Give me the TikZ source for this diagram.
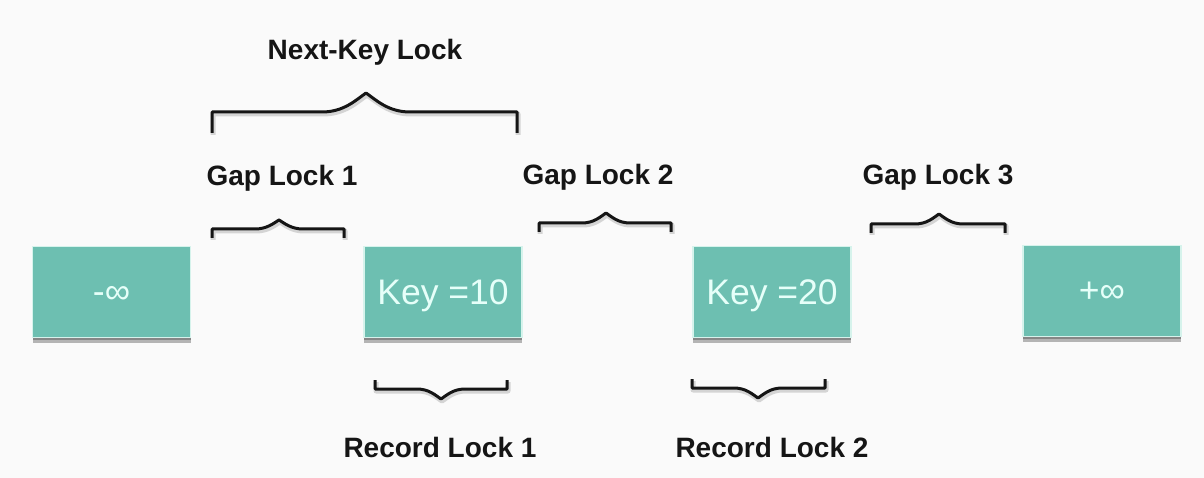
\documentclass[tikz,border=0pt]{standalone}
\usepackage{fontspec}
\setmainfont{Liberation Sans}
\usetikzlibrary{shadows}
\definecolor{bgc}{HTML}{FAFAFA}
\definecolor{teal1}{HTML}{6DBFB1}
\definecolor{tealedge}{HTML}{D6F3EC}
\definecolor{boxtext}{HTML}{E6FFF9}
\definecolor{ink}{HTML}{151515}
\tikzset{
  keybox/.style={rectangle, fill=teal1, draw=tealedge, line width=1.2pt,
    minimum width=158pt, minimum height=91pt, inner sep=0pt,
    double copy shadow={shadow xshift=0pt, shadow yshift=-2.5pt, opacity=0.35, fill=black!80, draw=none}},
  boxtxt/.style={text=boxtext, font=\fontsize{35.5}{40}\selectfont, inner sep=0pt, anchor=base},
  locklabel/.style={text=ink, font=\fontsize{28}{32}\selectfont\bfseries, inner sep=0pt, anchor=base},
  bracestroke/.style={draw=ink, line width=3pt, line cap=butt, line join=round},
  braceshade/.style={draw=black, opacity=0.15, line width=5pt, line join=round}
}
% #1 x left, #2 x right, #3 y bar, #4 y ends, #5 x tip, #6 y tip, #7 half width of peak
\newcommand\lockbrace[8][]{%
  \foreach \sty/\dx/\dy in {braceshade/1/2, bracestroke/0/0}{%
  \draw[\sty, shift={(\dx,\dy)}] (#2,#5) -- (#2,#4) -- ({#6-#8},#4)
     .. controls ({#6-0.5*#8},#4) and ({#6-0.22*#8},{#7+0.35*(#4-#7)}) .. (#6,#7)
     .. controls ({#6+0.22*#8},{#7+0.35*(#4-#7)}) and ({#6+0.5*#8},#4) .. ({#6+#8},#4)
     -- (#3,#4) -- (#3,#5);}%
}
\begin{document}
\begin{tikzpicture}[x=1pt, y=-1pt]
  \useasboundingbox (0,0) rectangle (1204,478);
  \fill[bgc] (0,0) rectangle (1204,478);

  % boxes
  \node[keybox] (ninf) at (111.5,292) {};
  \node[keybox] (k10)  at (443,292) {};
  \node[keybox] (k20)  at (772,292) {};
  \node[keybox] (pinf) at (1102,291) {};

  \node[boxtxt] (tninf) at ([yshift=-11.5pt]ninf.center) {-∞};
  \node[boxtxt] (tk10)  at ([yshift=-13pt]k10.center) {Key =10};
  \node[boxtxt] (tk20)  at ([yshift=-13pt]k20.center) {Key =20};
  \node[boxtxt] (tpinf) at ([yshift=-11.5pt]pinf.center) {+∞};

  % braces
  \lockbrace{212}{517}{112}{133}{366}{93}{44}
  \lockbrace{212}{344}{229}{238}{279}{220}{24}
  \lockbrace{539}{671}{223}{232}{606}{213}{24}
  \lockbrace{871}{1005}{224}{233}{939}{214}{24}
  \lockbrace{375}{507}{389}{380}{441}{399}{24}
  \lockbrace{692}{825}{388}{379}{758}{398}{24}

  % labels
  \node[locklabel] (nkl) at (365,60)  {Next-Key Lock};
  \node[locklabel] (gl1) at (282,186) {Gap Lock 1};
  \node[locklabel] (gl2) at (598,185) {Gap Lock 2};
  \node[locklabel] (gl3) at (938,185) {Gap Lock 3};
  \node[locklabel] (rl1) at (440,457) {Record Lock 1};
  \node[locklabel] (rl2) at (772,457) {Record Lock 2};
\end{tikzpicture}
\end{document}
